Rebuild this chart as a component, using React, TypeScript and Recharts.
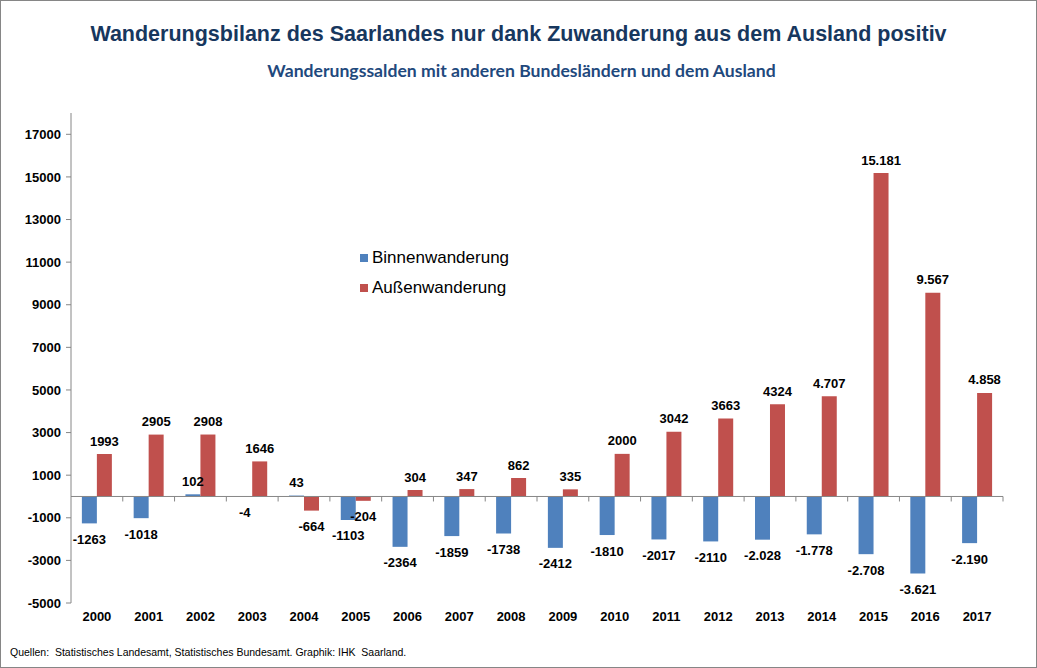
import { BarChart, Bar, XAxis, YAxis, ReferenceLine, LabelList, Legend } from 'recharts'

const years = ['2000', '2001', '2002', '2003', '2004', '2005', '2006', '2007', '2008', '2009', '2010', '2011', '2012', '2013', '2014', '2015', '2016', '2017']
const binnen = [-1263, -1018, 102, -4, 43, -1103, -2364, -1859, -1738, -2412, -1810, -2017, -2110, -2028, -1778, -2708, -3621, -2190]
const aussen = [1993, 2905, 2908, 1646, -664, -204, 304, 347, 862, 335, 2000, 3042, 3663, 4324, 4707, 15181, 9567, 4858]
const binnenLabels = ['-1263', '-1018', '102', '-4', '43', '-1103', '-2364', '-1859', '-1738', '-2412', '-1810', '-2017', '-2110', '-2.028', '-1.778', '-2.708', '-3.621', '-2.190']
const aussenLabels = ['1993', '2905', '2908', '1646', '-664', '-204', '304', '347', '862', '335', '2000', '3042', '3663', '4324', '4.707', '15.181', '9.567', '4.858']
const seriesNames = ['Binnenwanderung', 'Außenwanderung']
const yTicks = [-5000, -3000, -1000, 1000, 3000, 5000, 7000, 9000, 11000, 13000, 15000, 17000]

const BLUE = '#4F81BD'
const RED = '#C0504D'
const AXIS = '#868686'
const FONT = 'Arial, "Liberation Sans", sans-serif'

const data = years.map((year, i) => ({
  year,
  binnen: binnen[i],
  aussen: aussen[i],
  binnenLabel: binnenLabels[i],
  aussenLabel: aussenLabels[i],
}))

// label above positive bars, below negative ones
function BarLabel(props: any) {
  const { x, y, width, height, value } = props
  const text = String(value)
  const top = Math.min(y, y + height)
  const bottom = Math.max(y, y + height)
  const neg = text.startsWith('-')
  return (
    <text
      x={x + width / 2}
      y={neg ? bottom + 16 : top - 13}
      textAnchor="middle"
      dominantBaseline="central"
      fontFamily={FONT}
      fontSize={13}
      fontWeight="bold"
      fill="#000"
    >
      {text}
    </text>
  )
}

// zero line with category tick marks like Excel's horizontal axis
function ZeroAxis(props: any) {
  const { x1, y1, x2 } = props
  const step = (x2 - x1) / years.length
  return (
    <g>
      <line x1={x1} y1={y1} x2={x2} y2={y1} stroke={AXIS} strokeWidth={1} />
      {years.map((_, i) => (
        <line key={i} x1={x1 + step * (i + 1)} y1={y1} x2={x1 + step * (i + 1)} y2={y1 + 5} stroke={AXIS} strokeWidth={1} />
      ))}
    </g>
  )
}

function LegendBox({ payload }: any) {
  const items = [...(payload || [])].sort((a: any, b: any) => seriesNames.indexOf(a.value) - seriesNames.indexOf(b.value))
  return (
    <div style={{ fontFamily: FONT, fontSize: '17px', color: '#000' }}>
      {items.map((item: any) => (
        <div key={item.value} style={{ display: 'flex', alignItems: 'center', height: '30px' }}>
          <span style={{ width: '8px', height: '8px', background: item.color, marginRight: '4px' }} />
          <span>{item.value}</span>
        </div>
      ))}
    </div>
  )
}

export default function App() {
  return (
    <div style={{ position: 'relative', width: '1037px', height: '668px', background: 'white', fontFamily: FONT }}>
      <style>{'body{margin:0}'}</style>
      <div style={{
        position: 'absolute', left: 0, top: 23, width: '1037px', textAlign: 'center',
        fontSize: '21.5px', fontWeight: 'bold', color: '#17375E', lineHeight: '22px',
      }}>
        Wanderungsbilanz des Saarlandes nur dank Zuwanderung aus dem Ausland positiv
      </div>
      <div style={{
        position: 'absolute', left: 0, top: 61, width: '1043px', textAlign: 'center',
        fontFamily: 'Lato, sans-serif', fontSize: '17.6px', fontWeight: 'bold', color: '#1F497D', lineHeight: '20px',
      }}>
        Wanderungssalden mit anderen Bundesländern und dem Ausland
      </div>
      <BarChart
        width={1037} height={668} data={data}
        margin={{ top: 113, right: 34, left: 11, bottom: 35 }}
        barCategoryGap="21%" barGap={0}
      >
        <YAxis
          width={60} domain={[-5000, 18000]} ticks={yTicks} allowDataOverflow
          axisLine={{ stroke: AXIS }} tickLine={{ stroke: AXIS }} tickSize={5} tickMargin={5}
          tick={{ fill: '#000', fontSize: 13, fontWeight: 'bold', fontFamily: FONT }}
        />
        <XAxis
          dataKey="year" height={30} axisLine={false} tickLine={false} tickSize={0} tickMargin={9}
          interval={0}
          tick={{ fill: '#000', fontSize: 13, fontWeight: 'bold', fontFamily: FONT }}
        />
        <Legend
          layout="vertical" align="center" verticalAlign="middle"
          wrapperStyle={{ left: 360, top: 243, width: 'auto', height: 'auto' }}
          content={<LegendBox />}
        />
        <Bar dataKey="binnen" name={seriesNames[0]} fill={BLUE} isAnimationActive={false}>
          <LabelList dataKey="binnenLabel" content={<BarLabel />} />
        </Bar>
        <Bar dataKey="aussen" name={seriesNames[1]} fill={RED} isAnimationActive={false}>
          <LabelList dataKey="aussenLabel" content={<BarLabel />} />
        </Bar>
        <ReferenceLine y={0} stroke={AXIS} shape={<ZeroAxis />} />
      </BarChart>
      <div style={{
        position: 'absolute', left: 10, top: 646, fontSize: '10.5px', color: '#000', whiteSpace: 'pre',
      }}>
        {'Quellen:  Statistisches Landesamt, Statistisches Bundesamt. Graphik: IHK  Saarland.'}
      </div>
      <div style={{
        position: 'absolute', left: 0, top: 0, width: '1037px', height: '668px',
        border: `1px solid ${AXIS}`, boxSizing: 'border-box', pointerEvents: 'none',
      }} />
    </div>
  )
}
